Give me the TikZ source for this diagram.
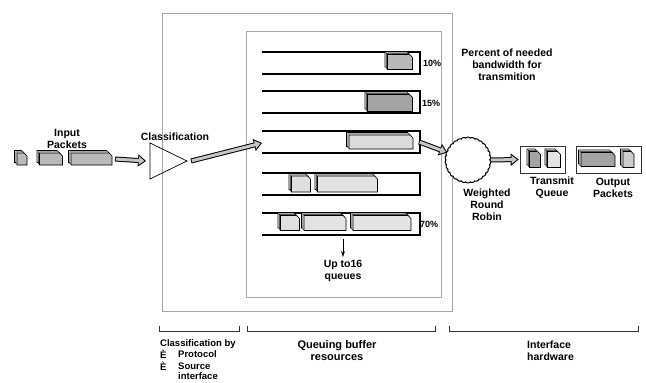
\documentclass[tikz,border=0pt]{standalone}
\usepackage{fontspec}
\setmainfont{Liberation Sans}
\usetikzlibrary{arrows.meta,decorations.pathmorphing,calc}

% packet drawn as a stack of sheets with a folded top-right corner
\newcommand\pktsheet[4]{%
  \draw[pktline,fill=#4]
    ([shift={(#2,#3)}]#1.north west) --
    ([shift={(#2-3pt,#3)}]#1.north east) --
    ([shift={(#2,#3-3pt)}]#1.north east) --
    ([shift={(#2,#3)}]#1.south east) --
    ([shift={(#2,#3)}]#1.south west) -- cycle;}
\newcommand\pkt[6]{%
  \node[pkbox,minimum width=#4pt,minimum height=#5pt] (#1) at (#2,#3) {};
  \pktsheet{#1}{-2.5pt}{2.5pt}{white}
  \pktsheet{#1}{-1.2pt}{1.2pt}{white}
  \pktsheet{#1}{0pt}{0pt}{#6}}

\begin{document}
\begin{tikzpicture}[x=1pt,y=-1pt,
  font=\bfseries\fontsize{10.5}{12}\selectfont,
  pkbox/.style={inner sep=0pt,outer sep=0pt,draw=none},
  pktline/.style={draw=black,line width=0.6pt,line join=miter},
  frame/.style={draw=gray!70,line width=0.7pt},
  barbox/.style={inner sep=0pt,outer sep=0pt,draw=none,minimum width=158pt,minimum height=22pt},
  barline/.style={draw=black,line width=2.3pt,line join=miter},
  fat/.style={line width=5pt,draw=black,-{Triangle[length=8pt,width=12pt]},
    postaction={draw=gray!45,line width=3pt,shorten <=0.8pt,shorten >=1.6pt,
      -{Triangle[length=5.5pt,width=8pt]}}},
  slim/.style={draw=black,line width=0.9pt,-{Stealth[length=6pt,width=4pt]}},
  bracket/.style={draw=black!80,line width=0.8pt},
  txt/.style={inner sep=0pt,align=center},
  small/.style={inner sep=0pt,anchor=west,font=\bfseries\fontsize{9.5}{11}\selectfont},
  pct/.style={inner sep=0pt,anchor=west,font=\bfseries\fontsize{9}{10}\selectfont},
  hwbox/.style={draw=black!80,line width=0.7pt,inner sep=0pt,minimum height=27pt}]

\useasboundingbox (0,0) rectangle (646,383);

% frames around the classification and queuing stages
\draw[frame] (162,13) rectangle (452,311);
\draw[frame] (246,31) rectangle (441,297);

% input packets
\pkt{in1}{22}{159}{10}{12}{gray!55}
\pkt{in2}{51}{159}{23}{12}{gray!55}
\pkt{in3}{91.5}{159}{41}{12}{gray!55}
\node[txt] (inlbl) at (67,139) {Input\\Packets};

% classifier
\coordinate (triT) at (150,143);
\coordinate (triB) at (150,179);
\coordinate (triA) at (187,161);
\coordinate (triW) at (150,161);
\draw[black,line width=0.7pt,line join=miter] (triT) -- (triA) -- (triB) -- cycle;
\node[txt] (clslbl) at (175,137) {Classification};
\coordinate (qin) at (262,143);

% queues
\node[barbox] (q1) at (341,63) {};
\node[barbox] (q2) at (341,102) {};
\node[barbox] (q3) at (341,142) {};
\node[barbox] (q4) at (341,184) {};
\node[barbox] (q5) at (341,224) {};
\foreach \q in {q1,q2,q3,q4,q5}
  \draw[barline] (\q.north west) -- (\q.north east) -- (\q.south east) -- (\q.south west);

\pkt{p1}{400}{62}{25}{15}{gray!55}
\pkt{p2}{390}{103}{45}{17}{gray!72}
\pkt{p3}{381}{142}{64}{14}{gray!28}
\pkt{p4a}{301}{184}{19}{16}{gray!25}
\pkt{p4b}{347.5}{184}{60}{16}{gray!22}
\pkt{p5a}{290}{223}{19}{15}{gray!25}
\pkt{p5b}{325}{223}{42}{15}{gray!22}
\pkt{p5c}{382}{223}{58}{15}{gray!22}

\node[pct] (pc1) at (423,63) {10\%};
\node[pct] (pc2) at (422,103) {15\%};
\node[pct] (pc5) at (420,224) {70\%};
\node[txt] (pctlbl) at (507,65) {Percent of needed\\bandwidth for\\transmition};

\node[txt] (upto) at (343,271) {Up to16\\queues};
\draw[slim] ([shift={(2pt,-4pt)}]q5.south) -- ([yshift=3pt]upto.north);

% scheduler
\node[circle,draw=black,fill=white,line width=1pt,minimum size=43pt,inner sep=0pt,
  decorate,decoration={bumps,segment length=9pt,amplitude=-1.3pt}] (wrr) at (468,160) {};
\node[txt] (wrrlbl) at (487,205) {Weighted\\Round\\Robin};

% interface hardware
\node[hwbox,minimum width=45pt] (tq) at (542.5,159.5) {};
\pkt{t1}{535}{159.5}{11}{16}{gray!72}
\pkt{t2}{554}{159.5}{13}{16}{gray!22}
\node[txt] (tqlbl) at (552,188) {Transmit\\Queue};
\node[hwbox,minimum width=65pt] (oq) at (608.5,159.5) {};
\pkt{o1}{598}{159.5}{34}{14}{gray!72}
\pkt{o2}{628.5}{159.5}{11}{16}{gray!40}
\node[txt] (oqlbl) at (613,188) {Output\\Packets};

% data flow
\draw[fat] ([xshift=3pt]in3.east) -- ([xshift=-4pt]triW);
\draw[fat] ([xshift=4pt]triA) -- (qin);
\draw[fat] ([xshift=-1pt]q3.east) -- (wrr.160);
\draw[fat] (wrr.east) -- ([xshift=-1pt]tq.west);

% stage brackets
\draw[bracket] (159,326) -- (159,331) -- (239,331) -- (239,326);
\draw[bracket] (247,326) -- (247,331) -- (435,331) -- (435,326);
\draw[bracket] (449,326) -- (449,331) -- (638,331) -- (638,326);

\node[small] (c1) at (160,344) {Classification by};
\node[small] (c2) at (160,354) {È};
\node[small] (c3) at (178,354) {Protocol};
\node[small] (c4) at (160,366) {È};
\node[small] (c5) at (178,366) {Source};
\node[small] (c6) at (178,376.5) {interface};
\node[txt,font=\bfseries\fontsize{11}{12}\selectfont] (qblbl) at (337,351) {Queuing buffer\\resources};
\node[txt,align=left,anchor=west] (hwlbl) at (527,351) {Interface\\hardware};
\end{tikzpicture}
\end{document}
